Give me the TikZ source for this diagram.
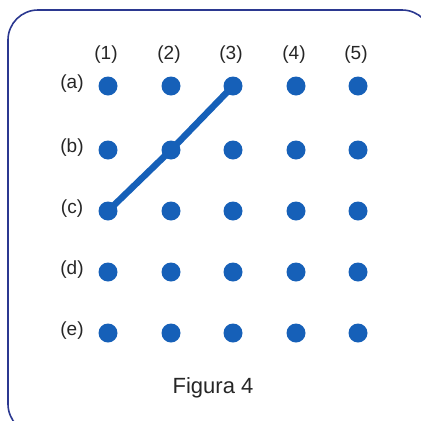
\documentclass[tikz,border=0pt]{standalone}
\usepackage{fontspec}
\setmainfont{Liberation Sans}
\definecolor{dotblue}{HTML}{1660B8}
\definecolor{framenavy}{HTML}{2B3890}
\begin{document}
\begin{tikzpicture}[x=1pt,y=-1pt,
  dot/.style={circle,fill=dotblue,inner sep=0pt,minimum size=19pt},
  lbl/.style={font=\fontsize{19}{21}\selectfont,text=black!85,inner sep=0pt},
  frame/.style={draw=framenavy,line width=1.6pt,rounded corners=30pt},
  seg/.style={draw=dotblue,line width=6.5pt,line cap=round}]
\useasboundingbox (0,0) rectangle (421,421);
\begin{scope}
\clip (0,0) rectangle (421,421);
\path[frame] (8,10) rectangle (432,434);
\end{scope}
\foreach \c/\x in {1/108,2/171,3/233,4/296,5/358}{
  \node[lbl] (col\c) at (\x-2,55) {(\c)};
}
\foreach \r/\y in {a/86,b/150,c/211,d/272,e/333}{
  \node[lbl] (row\r) at (72,\y-2) {(\r)};
  \foreach \c/\x in {1/108,2/171,3/233,4/296,5/358}{
    \node[dot] (\r\c) at (\x,\y) {};
  }
}
\draw[seg] (c1.center) -- (b2.center) -- (a3.center);
\node[lbl,font=\fontsize{22}{24}\selectfont] (fig) at (213,388) {Figura 4};
\end{tikzpicture}
\end{document}
